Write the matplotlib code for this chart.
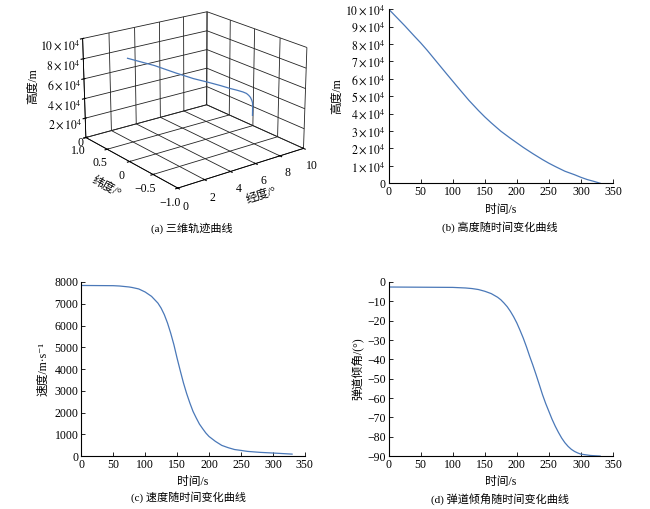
"""
Reentry trajectory figure: 3D track, altitude, speed and flight path angle
"""

import matplotlib
matplotlib.use('Agg')
import matplotlib.pyplot as plt
from matplotlib.ticker import FixedLocator, FixedFormatter

plt.rcParams['font.family'] = ['Liberation Serif', 'Noto Sans CJK SC', 'DejaVu Serif']
plt.rcParams['mathtext.fontset'] = 'stix'
plt.rcParams['font.size'] = 8.5
plt.rcParams['axes.unicode_minus'] = True
plt.rcParams['grid.color'] = '#222222'
plt.rcParams['grid.linewidth'] = 0.6

LINE = '#4a78b8'

# 3D track: longitude (deg), latitude (deg), altitude (m)
track_lon = [0.0, 1.0, 2.0, 3.0, 3.6, 5.0, 6.2, 7.2, 8.0, 8.6, 9.1, 9.4, 9.6, 9.75, 9.87, 9.93, 9.95, 9.95]
track_lat = [0.0] * len(track_lon)
track_alt = [100000, 93500, 87000, 79500, 75000, 65000, 57500, 51000, 45500, 41700, 38300, 35800, 33100, 30500, 27100, 24500, 22000, 11000]

# panel (b): altitude vs time
t_alt = [0, 10, 25, 40, 50, 60, 75, 90, 100, 110, 125, 140, 150, 160, 175, 190, 200, 210,
         225, 240, 250, 260, 275, 290, 300, 310, 320, 330]
altitude = [100000, 96200, 90500, 84500, 80600, 76400, 69700, 63000, 58600, 54200, 47700, 41800,
            38100, 34700, 29900, 25800, 23200, 20600, 17000, 13600, 11500, 9600, 6900, 4900,
            3400, 2100, 1100, 0]

# panel (c): speed vs time
t_vel = [0, 50, 60, 75, 80, 90, 100, 110, 120, 125, 130, 135, 140, 145, 150, 155, 160, 165,
         170, 175, 180, 185, 190, 195, 200, 210, 220, 230, 240, 250, 260, 280, 300, 330]
speed = [7840, 7830, 7815, 7770, 7745, 7680, 7540, 7340, 7030, 6800, 6500, 6115, 5650, 5120,
         4500, 3920, 3360, 2870, 2440, 2050, 1750, 1470, 1260, 1060, 900, 675, 490, 385, 300,
         260, 215, 170, 140, 90]

# panel (d): flight path angle vs time
t_ang = [0, 100, 120, 130, 140, 150, 160, 170, 175, 180, 185, 190, 195, 200, 205, 210, 215,
         220, 225, 230, 235, 240, 245, 250, 255, 260, 265, 270, 275, 280, 285, 290, 295, 300,
         315, 330]
path_angle = [-2.6, -2.8, -3.1, -3.4, -3.9, -4.8, -6.0, -7.9, -9.2, -10.9, -12.8, -15.2, -18.0,
              -21.2, -25.0, -29.0, -33.5, -38.4, -43.0, -47.9, -53.0, -58.2, -62.8, -66.9, -71.0,
              -74.6, -77.8, -80.7, -83.1, -85.0, -86.5, -87.6, -88.4, -89.0, -89.7, -90.0]

time_ticks = [0, 50, 100, 150, 200, 250, 300, 350]


def style_2d(ax):
    ax.spines['top'].set_visible(False)
    ax.spines['right'].set_visible(False)
    ax.spines['left'].set_linewidth(0.8)
    ax.spines['bottom'].set_linewidth(0.8)
    ax.tick_params(direction='in', length=3, width=0.6, pad=2)
    ax.set_xlim(0, 350)
    ax.set_xticks(time_ticks)
    ax.set_xlabel('时间/s', labelpad=4)


fig = plt.figure(figsize=(6.5, 5.09), dpi=100)

# (a) 3D trajectory
ax_a = fig.add_axes([0.058, 0.59, 0.47, 0.44], projection='3d')
ax_a.plot(track_lon, track_lat, track_alt, color=LINE, lw=0.9)
ax_a.set_xlim(0, 10)
ax_a.set_ylim(-1, 1)
ax_a.set_zlim(0, 100000)
ax_a.set_box_aspect((4, 4, 2.7), zoom=1.07)
ax_a.set_xticks([0, 2, 4, 6, 8, 10])
ax_a.set_yticks([-1.0, -0.5, 0, 0.5, 1.0])
ax_a.set_yticklabels(['−1.0', '−0.5', '0', '0.5', '1.0'])
ax_a.set_zticks([0, 20000, 40000, 60000, 80000, 100000])
ax_a.set_zticklabels(['0'] + [r'$%d\times10^4$' % k for k in (2, 4, 6, 8, 10)])
for lbl in ax_a.get_zticklabels():
    lbl.set_horizontalalignment('right')
ax_a.xaxis.set_rotate_label(True)
ax_a.yaxis.set_rotate_label(True)
ax_a.zaxis.set_rotate_label(False)
ax_a.set_xlabel('经度/°', labelpad=-6)
ax_a.set_ylabel('纬度/°', labelpad=-6)
ax_a.set_zlabel('高度/m', labelpad=-1, rotation=90)
for axis in (ax_a.xaxis, ax_a.yaxis, ax_a.zaxis):
    axis.set_pane_color((1, 1, 1, 0))
    axis.pane.set_edgecolor('#222222')
    axis.line.set_linewidth(0.6)
ax_a.tick_params(axis='x', pad=-1.5, labelsize=8.5)
ax_a.tick_params(axis='y', pad=-3, labelsize=8.5)
ax_a.tick_params(axis='z', pad=-7, labelsize=8.5)
ax_a.view_init(elev=20, azim=-127.5)
fig.text(0.295, 0.552, '(a) 三维轨迹曲线', ha='center', va='center', fontsize=8)

# (b) altitude
ax_b = fig.add_axes([0.598, 0.640, 0.345, 0.342])
ax_b.plot(t_alt, altitude, color=LINE, lw=0.9)
style_2d(ax_b)
ax_b.set_ylim(0, 100000)
ax_b.yaxis.set_major_locator(FixedLocator([k * 10000 for k in range(11)]))
ax_b.yaxis.set_major_formatter(FixedFormatter(['0'] + [r'$%d\times10^4$' % k for k in range(1, 11)]))
ax_b.set_ylabel('高度/m', labelpad=2)
fig.text(0.769, 0.554, '(b) 高度随时间变化曲线', ha='center', va='center', fontsize=8)

# (c) speed
ax_c = fig.add_axes([0.125, 0.104, 0.344, 0.342])
ax_c.plot(t_vel, speed, color=LINE, lw=0.9)
style_2d(ax_c)
ax_c.set_ylim(0, 8000)
ax_c.set_yticks(range(0, 8001, 1000))
ax_c.set_ylabel('速度/m·s⁻¹', labelpad=4)
fig.text(0.29, 0.024, '(c) 速度随时间变化曲线', ha='center', va='center', fontsize=8)

# (d) flight path angle
ax_d = fig.add_axes([0.598, 0.104, 0.345, 0.342])
ax_d.plot(t_ang, path_angle, color=LINE, lw=0.9)
style_2d(ax_d)
ax_d.set_ylim(-90, 0)
ax_d.set_yticks(range(-90, 1, 10))
ax_d.set_ylabel('弹道倾角/(°)', labelpad=2)
fig.text(0.769, 0.018, '(d) 弹道倾角随时间变化曲线', ha='center', va='center', fontsize=8)

fig.savefig('out.png', dpi=100)
